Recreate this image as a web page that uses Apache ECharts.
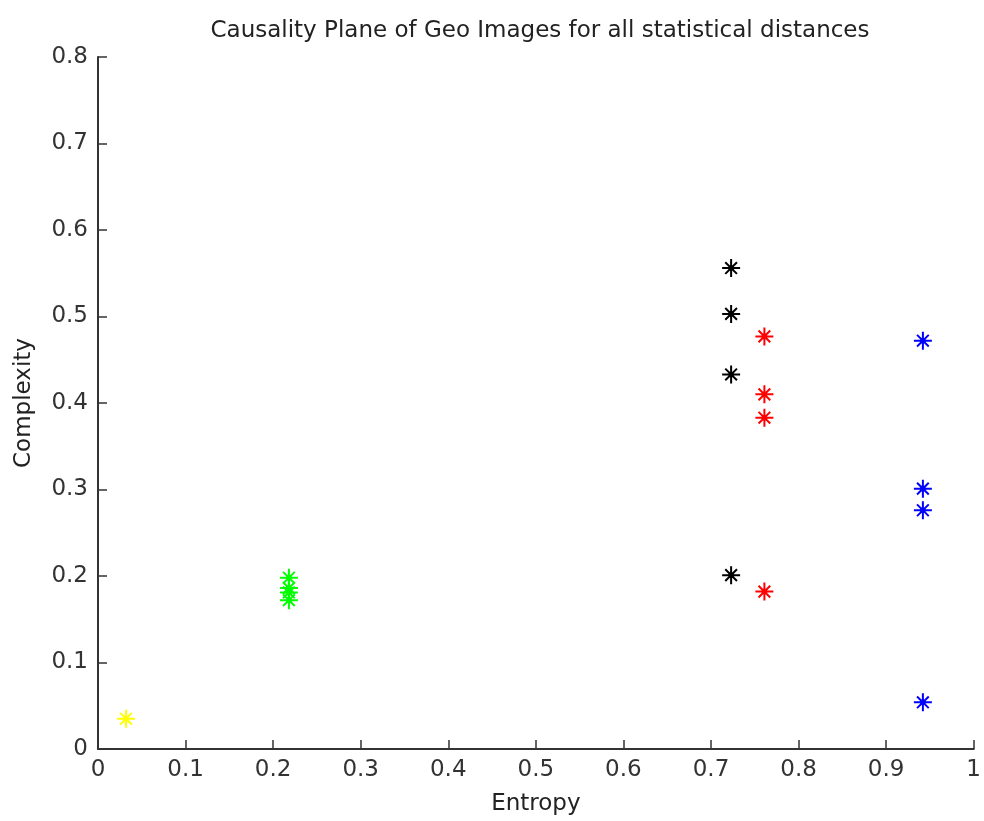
<!DOCTYPE html>
<html>
<head>
<meta charset="utf-8">
<script src="https://cdn.jsdelivr.net/npm/echarts@6/dist/echarts.min.js"></script>
<style>
  html, body { margin: 0; padding: 0; background: #fff; }
  #main { width: 984px; height: 821px; }
</style>
</head>
<body>
<div id="main"></div>
<script>
  // values, one list per colour group
  var yellowPts = [[0.032, 0.035]]
  var greenPts = [[0.218, 0.198], [0.218, 0.186], [0.218, 0.181], [0.218, 0.172]]
  var blackPts = [[0.723, 0.556], [0.723, 0.503], [0.723, 0.433], [0.723, 0.201]]
  var redPts = [[0.761, 0.477], [0.761, 0.410], [0.761, 0.383], [0.761, 0.182]]
  var bluePts = [[0.942, 0.472], [0.942, 0.301], [0.942, 0.276], [0.942, 0.054]]

  // matlab style '*' marker (small filled centre)
  var star = 'path://M10,0L10,20M0,10L20,10M3.5,3.5L16.5,16.5M16.5,3.5L3.5,16.5M8,8L12,8L12,12L8,12Z'
  var font = 'DejaVu Sans'

  function starSeries (name, data, color) {
    return {
      name: name,
      type: 'scatter',
      data: data,
      symbol: star,
      symbolSize: 18,
      itemStyle: {
        color: color,
        borderColor: color,
        borderWidth: 2,
        opacity: 1
      },
      emphasis: { disabled: true }
    }
  }

  function tickText (v) {
    return String(Math.round(v * 10) / 10)
  }

  var chart = echarts.init(document.getElementById('main'))
  chart.setOption({
    animation: false,
    backgroundColor: '#fff',
    title: {
      text: 'Causality Plane of Geo Images for all statistical distances',
      left: 535,
      top: 15,
      textAlign: 'center',
      textStyle: { fontFamily: font, fontSize: 23, fontWeight: 'normal', color: '#222' }
    },
    grid: { left: 98, right: 6, top: 57, bottom: 71, containLabel: false },
    xAxis: {
      type: 'value',
      min: 0,
      max: 1,
      interval: 0.1,
      name: 'Entropy',
      nameLocation: 'middle',
      nameGap: 44,
      nameTextStyle: { fontFamily: font, fontSize: 23, color: '#222' },
      axisLine: { show: true, lineStyle: { color: '#333', width: 2 } },
      axisTick: { show: true, inside: true, length: 9, lineStyle: { color: '#333', width: 1.5 } },
      axisLabel: { fontFamily: font, fontSize: 23, color: '#333', margin: 10, formatter: tickText },
      splitLine: { show: false }
    },
    yAxis: {
      type: 'value',
      min: 0,
      max: 0.8,
      interval: 0.1,
      name: 'Complexity',
      nameLocation: 'middle',
      nameGap: 62,
      nameRotate: 90,
      nameTextStyle: { fontFamily: font, fontSize: 23, color: '#222' },
      axisLine: { show: true, lineStyle: { color: '#333', width: 2 } },
      axisTick: { show: true, inside: true, length: 9, lineStyle: { color: '#333', width: 1.5 } },
      axisLabel: { fontFamily: font, fontSize: 23, color: '#333', margin: 10, formatter: tickText },
      splitLine: { show: false }
    },
    series: [
      starSeries('yellow', yellowPts, '#ffff00'),
      starSeries('green', greenPts, '#00ff00'),
      starSeries('black', blackPts, '#000000'),
      starSeries('red', redPts, '#ff0000'),
      starSeries('blue', bluePts, '#0000ff')
    ]
  })
</script>
</body>
</html>
